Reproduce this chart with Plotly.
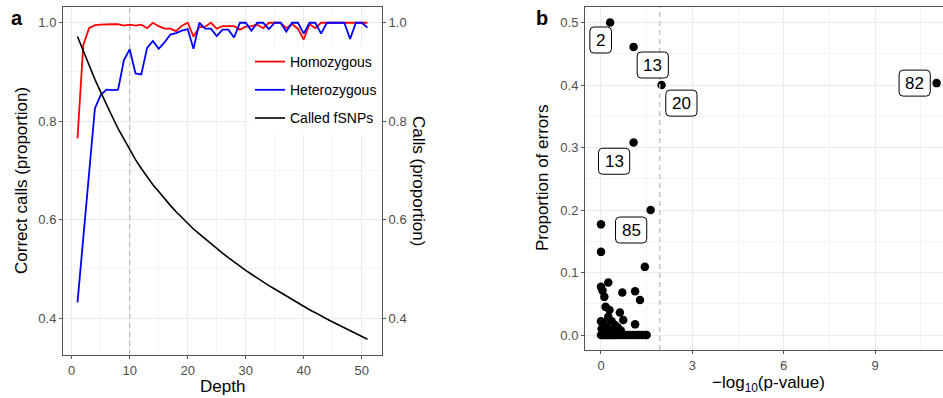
import plotly.graph_objects as go

# ---------------- data: panel a ----------------
depth = list(range(1, 52))
homozygous = [0.765, 0.955, 0.989, 0.995, 0.996, 0.997, 0.997, 0.997, 0.994, 0.996,
              0.994, 0.996, 0.989, 1.000, 0.993, 0.988, 0.988, 0.983, 0.994, 1.000,
              0.972, 0.991, 0.992, 1.000, 0.988, 0.993, 0.993, 0.993, 0.986, 0.992,
              0.993, 0.996, 0.989, 1.000, 1.000, 1.000, 0.989, 0.997, 0.988, 0.966,
              0.997, 0.989, 1.000, 1.000, 1.000, 1.000, 1.000, 1.000, 1.000, 1.000, 1.000]
heterozygous = [0.432, 0.560, 0.690, 0.826, 0.853, 0.864, 0.863, 0.864, 0.924, 0.946,
                0.897, 0.895, 0.949, 0.963, 0.947, 0.960, 0.976, 0.979, 0.984, 0.987,
                0.947, 1.000, 0.988, 0.988, 0.973, 0.986, 0.986, 0.970, 1.000, 1.000,
                0.984, 1.000, 1.000, 0.987, 1.000, 1.000, 0.982, 1.000, 1.000, 0.978,
                1.000, 1.000, 0.978, 1.000, 1.000, 1.000, 1.000, 0.967, 1.000, 1.000, 0.990]
called_fsnps = [0.972, 0.942, 0.913, 0.885, 0.859, 0.833, 0.809, 0.785, 0.763, 0.741,
                0.722, 0.704, 0.687, 0.671, 0.657, 0.642, 0.629, 0.616, 0.604, 0.592,
                0.581, 0.571, 0.561, 0.551, 0.541, 0.532, 0.523, 0.514, 0.506, 0.497,
                0.489, 0.481, 0.474, 0.466, 0.459, 0.452, 0.444, 0.437, 0.431, 0.424,
                0.417, 0.411, 0.404, 0.398, 0.392, 0.386, 0.380, 0.374, 0.368, 0.362, 0.357]
depth_cutoff = 10

# ---------------- data: panel b ----------------
neglog_p = [0.30, 1.07, 1.99, 1.07, 1.63, 0.00, 0.00, 1.44, 11.02,
            0.24, 0.00, 0.05, 0.11, 0.70, 1.12, 1.28, 0.15, 0.28, 0.62, 0.24,
            0.00, 0.73, 1.12, 0.46, 0.08, 0.35, 0.18, 0.55, 0.02, 0.30, 0.12, 0.40, 0.65,
            0.00, 0.05, 0.10, 0.15, 0.20, 0.25, 0.30, 0.36, 0.42, 0.48, 0.55,
            0.62, 0.70, 0.78, 0.86, 0.95, 1.05, 1.15, 1.25, 1.35, 1.45, 1.50]
prop_errors = [0.500, 0.461, 0.400, 0.308, 0.200, 0.177, 0.133, 0.109, 0.403,
               0.084, 0.077, 0.071, 0.061, 0.068, 0.070, 0.056, 0.045, 0.040, 0.036, 0.029,
               0.022, 0.024, 0.017, 0.016, 0.020, 0.022, 0.013, 0.012, 0.010, 0.008, 0.006, 0.005, 0.007,
               0.0, 0.0, 0.0, 0.0, 0.0, 0.0, 0.0, 0.0, 0.0, 0.0, 0.0,
               0.0, 0.0, 0.0, 0.0, 0.0, 0.0, 0.0, 0.0, 0.0, 0.0, 0.0]
pval_cutoff = 1.93
label_text = ["2", "13", "20", "13", "85", "82"]
label_x = [-0.01, 1.70, 2.64, 0.43, 0.99, 10.30]
label_y = [0.472, 0.432, 0.371, 0.278, 0.168, 0.403]

FONT = "Liberation Sans, Arial, Helvetica, sans-serif"
W, H = 943, 398
GRID = "#EBEBEB"
MINOR = "#F3F3F3"
AXL = "#555555"
TICKC = "#4D4D4D"
A_YRANGE = [0.325, 1.032]
B_YRANGE = [-0.024, 0.5248]


def px_x(p):
    return p / W


def px_y(p):
    return 1 - p / H


def rounded_box(w, h, r):
    a, b = w / 2.0, h / 2.0
    return ("M {x0},{y0} L {x1},{y0} Q {a},{y0} {a},{y2} L {a},{y3} Q {a},{b} {x1},{b} "
            "L {x0},{b} Q {na},{b} {na},{y3} L {na},{y2} Q {na},{y0} {x0},{y0} Z").format(
        x0=-a + r, x1=a - r, y0=-b, y2=-b + r, y3=b - r, a=a, na=-a, b=b)


fig = go.Figure()
# dashed depth cut-off (drawn first, under the lines)
fig.add_trace(go.Scatter(x=[depth_cutoff, depth_cutoff], y=A_YRANGE, mode="lines", showlegend=False,
                         hoverinfo="skip", line=dict(color="#BEBEBE", width=1.3, dash="5px,4px"),
                         xaxis="x", yaxis="y"))
fig.add_trace(go.Scatter(x=depth, y=homozygous, mode="lines", name="Homozygous",
                         line=dict(color="#FF0000", width=1.8), legendgroup="g1",
                         xaxis="x", yaxis="y"))
fig.add_trace(go.Scatter(x=depth, y=heterozygous, mode="lines", name="Heterozygous",
                         line=dict(color="#0000FF", width=1.8), legendgroup="g2",
                         xaxis="x", yaxis="y"))
fig.add_trace(go.Scatter(x=depth, y=called_fsnps, mode="lines", name="Called fSNPs",
                         line=dict(color="#000000", width=1.6), legendgroup="g3",
                         xaxis="x", yaxis="y2"))
fig.add_trace(go.Scatter(x=neglog_p, y=prop_errors, mode="markers", showlegend=False,
                         marker=dict(color="black", size=8.5, line=dict(width=0)),
                         xaxis="x3", yaxis="y3"))
# dashed p-value cut-off (drawn over the points)
fig.add_trace(go.Scatter(x=[pval_cutoff, pval_cutoff], y=B_YRANGE, mode="lines", showlegend=False,
                         hoverinfo="skip", line=dict(color="#BEBEBE", width=1.3, dash="5px,4px"),
                         xaxis="x3", yaxis="y3"))

common = dict(showline=True, linecolor=AXL, linewidth=1, ticks="outside", ticklen=3,
              tickcolor=AXL, tickwidth=1, zeroline=False,
              tickfont=dict(family=FONT, size=13, color=TICKC))
grid = dict(showgrid=True, gridcolor=GRID, gridwidth=1)

fig.update_layout(
    width=W, height=H, margin=dict(l=0, r=0, t=0, b=0),
    plot_bgcolor="white", paper_bgcolor="white",
    font=dict(family=FONT, color="black"),
    xaxis=dict(domain=[px_x(63), px_x(382)], range=[-1.5, 53.5], tickvals=[0, 10, 20, 30, 40, 50],
               mirror=True, anchor="y",
               minor=dict(tickvals=[5, 15, 25, 35, 45], showgrid=True, gridcolor=MINOR, ticks=""),
               **common, **grid),
    yaxis=dict(domain=[px_y(355), px_y(7)], range=A_YRANGE, tickvals=[0.4, 0.6, 0.8, 1.0],
               tickformat=".1f", anchor="x",
               minor=dict(tickvals=[0.5, 0.7, 0.9], showgrid=True, gridcolor=MINOR, ticks=""),
               **common, **grid),
    yaxis2=dict(overlaying="y", side="right", anchor="x", range=A_YRANGE,
                tickvals=[0.4, 0.6, 0.8, 1.0], tickformat=".1f", showgrid=False, **common),
    xaxis3=dict(domain=[px_x(585), 1.0], range=[-0.525, 11.23], tickvals=[0, 3, 6, 9],
                mirror=True, anchor="y3",
                minor=dict(tickvals=[1.5, 4.5, 7.5, 10.5], showgrid=True, gridcolor=MINOR, ticks=""),
                **common, **grid),
    yaxis3=dict(domain=[px_y(350), px_y(7)], range=B_YRANGE,
                tickvals=[0.0, 0.1, 0.2, 0.3, 0.4, 0.5], tickformat=".1f", anchor="x3",
                minor=dict(tickvals=[0.05, 0.15, 0.25, 0.35, 0.45], showgrid=True, gridcolor=MINOR, ticks=""),
                **common, **grid),
    legend=dict(x=px_x(250), y=px_y(46), xanchor="left", yanchor="top",
                bgcolor="white", borderwidth=0, tracegroupgap=7,
                font=dict(family=FONT, size=14, color="black")),
)

# count labels in panel b (rounded white boxes + text)
for t, lx, ly in zip(label_text, label_x, label_y):
    bw = len(t) * 9.6 + 12
    fig.add_shape(type="path", xref="x3", yref="y3", xsizemode="pixel", ysizemode="pixel",
                  xanchor=lx, yanchor=ly, path=rounded_box(bw, 26, 4),
                  fillcolor="white", line=dict(color="black", width=1), layer="above")
    fig.add_annotation(x=lx, y=ly, xref="x3", yref="y3", text=t, showarrow=False,
                       font=dict(family=FONT, size=17, color="black"))

# axis titles and panel letters
titles = [
    dict(text="Correct calls (proportion)", x=px_x(21), y=px_y(181), textangle=-90),
    dict(text="Calls (proportion)", x=px_x(419), y=px_y(181), textangle=90),
    dict(text="Depth", x=px_x(222), y=px_y(386), textangle=0),
    dict(text="Proportion of errors", x=px_x(542), y=px_y(178), textangle=-90),
    dict(text="\u2212log<sub>10</sub>(p-value)", x=px_x(768), y=px_y(384), textangle=0),
]
for t in titles:
    fig.add_annotation(xref="paper", yref="paper", showarrow=False, xanchor="center", yanchor="middle",
                       font=dict(family=FONT, size=17, color="black"), **t)
for letter, lx in (("a", 17), ("b", 542)):
    fig.add_annotation(xref="paper", yref="paper", showarrow=False, x=px_x(lx), y=px_y(18),
                       xanchor="center", yanchor="middle", text="<b>%s</b>" % letter,
                       font=dict(family=FONT, size=20, color="black"))

fig.write_html("out.html")
